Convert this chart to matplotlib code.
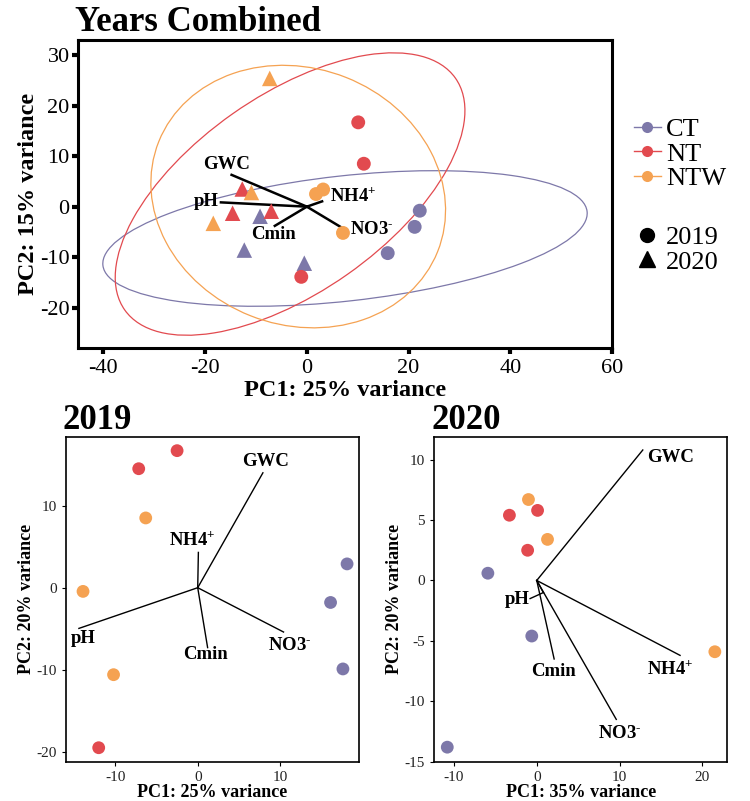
import numpy as np
import matplotlib
matplotlib.use('Agg')
import matplotlib.pyplot as plt
from matplotlib.patches import Ellipse
from matplotlib.lines import Line2D

plt.rcParams['font.family'] = 'Liberation Serif'
plt.rcParams['mathtext.fontset'] = 'custom'
plt.rcParams['mathtext.rm'] = 'Liberation Serif:bold'
plt.rcParams['mathtext.bf'] = 'Liberation Serif:bold'
plt.rcParams['mathtext.default'] = 'bf'
plt.rcParams['axes.unicode_minus'] = False

# ============================== DATA ==============================
treatments = ['CT', 'NT', 'NTW']
colors = {'CT': '#7D78A9', 'NT': '#E24A4F', 'NTW': '#F5A252'}

# Years combined: PC1, PC2 per treatment and year
comb_x = {('CT', 2019): [15.9, 22.2, 21.2], ('CT', 2020): [-9.2, -12.3, -0.5],
          ('NT', 2019): [10.1, 11.2, -1.1], ('NT', 2020): [-12.7, -14.6, -7.0],
          ('NTW', 2019): [1.8, 3.2, 7.1], ('NTW', 2020): [-7.3, -10.9, -18.4]}
comb_y = {('CT', 2019): [-9.2, -0.8, -4.0], ('CT', 2020): [-1.9, -8.6, -11.2],
          ('NT', 2019): [16.7, 8.5, -13.9], ('NT', 2020): [3.5, -1.3, -0.9],
          ('NTW', 2019): [2.5, 3.4, -5.2], ('NTW', 2020): [25.4, 2.8, -3.3]}

# stat ellipses: centre, semi-axes, rotation (deg)
ell_cx = [7.5, -3.3, -1.7]
ell_cy = [-6.3, 2.5, 2.0]
ell_a = [47.9, 39.8, 29.5]
ell_b = [12.4, 19.5, 25.4]
ell_ang = [6.4, 35.3, -21.7]

# loadings (tip) and label positions
var_names = ['GWC', 'pH', r'NH4$^{+}$', r'NO3$^{\text{-}}$', 'Cmin']
comb_load_x = [-14.8, -16.9, 3.0, 7.6, -6.3]
comb_load_y = [6.3, 0.85, 1.05, -4.6, -3.8]
comb_lab_x = [-15.7, -19.8, 9.1, 12.8, -6.5]
comb_lab_y = [8.45, 1.05, 2.05, -4.55, -5.6]

# 2019
y19_x = {'CT': [18.1, 16.1, 17.6], 'NT': [-2.5, -7.15, -12.0], 'NTW': [-6.3, -13.9, -10.2]}
y19_y = {'CT': [2.9, -1.8, -9.9], 'NT': [16.7, 14.5, -19.5], 'NTW': [8.5, -0.45, -10.6]}
y19_load_x = [7.9, -14.4, 0.08, 10.4, 1.2]
y19_load_y = [14.0, -4.96, 4.3, -5.4, -7.3]
y19_lab_x = [8.2, -13.9, -0.7, 11.2, 0.9]
y19_lab_y = [15.4, -6.2, 5.8, -7.0, -8.1]

# 2020
y20_x = {'CT': [-5.9, -0.6, -10.8], 'NT': [-3.3, 0.1, -1.1], 'NTW': [-1.0, 1.3, 21.5]}
y20_y = {'CT': [0.6, -4.6, -13.8], 'NT': [5.4, 5.8, 2.5], 'NTW': [6.7, 3.4, -5.9]}
y20_load_x = [12.8, 0.8, 17.3, 9.6, 2.1]
y20_load_y = [10.8, -1.0, -6.2, -11.5, -6.5]
y20_lab_x = [16.1, -2.4, 16.1, 10.0, 2.0]
y20_lab_y = [10.2, -1.6, -7.3, -12.7, -7.5]

# ============================== PLOT ==============================
fig = plt.figure(figsize=(7.5, 8.01), dpi=100)

# ---------------- Years combined ----------------
ax = fig.add_axes([0.104, 0.5655, 0.712, 0.3845])
for i, t in enumerate(treatments):
    ax.add_patch(Ellipse((ell_cx[i], ell_cy[i]), 2*ell_a[i], 2*ell_b[i], angle=ell_ang[i],
                         fill=False, edgecolor=colors[t], lw=0.9, zorder=1))
for i in range(len(var_names)):
    ax.plot([0, comb_load_x[i]], [0, comb_load_y[i]], color='black', lw=1.8, zorder=2)
for t in treatments:
    ax.scatter(comb_x[(t, 2019)], comb_y[(t, 2019)], s=100, marker='o', color=colors[t],
               edgecolors='none', zorder=3)
    ax.scatter(comb_x[(t, 2020)], comb_y[(t, 2020)], s=125, marker='^', color=colors[t],
               edgecolors='none', zorder=3)
for i, nm in enumerate(var_names):
    ax.text(comb_lab_x[i], comb_lab_y[i], nm, fontsize=13.5, fontweight='bold',
            ha='center', va='center', zorder=4)
ax.set_xlim(-45, 60)
ax.set_ylim(-28, 33)
ax.set_xticks([-40, -20, 0, 20, 40, 60])
ax.set_yticks([-20, -10, 0, 10, 20, 30])
ax.tick_params(labelsize=16, width=3, length=4, color='black', pad=2)
ax.tick_params(axis='x', pad=4)
for sp in ax.spines.values():
    sp.set_linewidth(2.2)
ax.set_xlabel('PC1: 25% variance', fontsize=17.5, fontweight='bold', labelpad=1)
ax.set_ylabel('PC2: 15% variance', fontsize=17.5, fontweight='bold', labelpad=1)
fig.text(0.1, 0.961, 'Years Combined', fontsize=25, fontweight='bold', ha='left', va='baseline')

# legends
col_handles = [Line2D([0], [0], color=colors[t], marker='o', markersize=8, lw=1.0,
                      markeredgewidth=0) for t in treatments]
fig.legend(col_handles, treatments, loc='upper left', bbox_to_anchor=(0.828, 0.87),
           frameon=False, fontsize=19, handlelength=1.0, handletextpad=0.2,
           labelspacing=0.05, borderpad=0)
shape_handles = [Line2D([0], [0], color='black', marker='o', markersize=10, lw=0),
                 Line2D([0], [0], color='black', marker='^', markersize=12, lw=0)]
fig.legend(shape_handles, ['2019', '2020'], loc='upper left', bbox_to_anchor=(0.828, 0.735),
           frameon=False, fontsize=19, handlelength=1.0, handletextpad=0.2,
           labelspacing=0.05, borderpad=0)


# ---------------- single year panels ----------------
def year_panel(rect, px, py, lx, ly, tx, ty, xlim, ylim, xt, yt, xlbl, title):
    a = fig.add_axes(rect)
    for i in range(len(var_names)):
        a.plot([0, lx[i]], [0, ly[i]], color='black', lw=1.0, zorder=2)
    for t in treatments:
        a.scatter(px[t], py[t], s=85, color=colors[t], edgecolors='none', zorder=3)
    for i, nm in enumerate(var_names):
        a.text(tx[i], ty[i], nm, fontsize=13.5, fontweight='bold', ha='center', va='center', zorder=4)
    a.set_xlim(xlim)
    a.set_ylim(ylim)
    a.set_xticks(xt)
    a.set_yticks(yt)
    a.tick_params(labelsize=11, width=0.8, length=3, labelcolor='#222222')
    for sp in a.spines.values():
        sp.set_linewidth(1.2)
    a.set_xlabel(xlbl, fontsize=13, fontweight='bold', labelpad=0)
    a.set_ylabel('PC2: 20% variance', fontsize=13, fontweight='bold', labelpad=1)
    a.set_title(title, fontsize=25, fontweight='bold', loc='left', pad=3, x=-0.01)
    return a

year_panel([0.0876, 0.0491, 0.3911, 0.4057], y19_x, y19_y, y19_load_x, y19_load_y,
           y19_lab_x, y19_lab_y, (-16.0, 19.55), (-21.2, 18.4), [-10, 0, 10], [-20, -10, 0, 10],
           'PC1: 25% variance', '2019')
ax20 = year_panel([0.5787, 0.0491, 0.391, 0.4057], y20_x, y20_y, y20_load_x, y20_load_y,
                  y20_lab_x, y20_lab_y, (-12.4, 23.0), (-15.0, 11.9), [-10, 0, 10, 20],
                  [-15, -10, -5, 0, 5, 10], 'PC1: 35% variance', '2020')
# pH label connector in 2020
ax20.plot([y20_load_x[1], -0.8], [y20_load_y[1], -1.5], color='black', lw=1.0, zorder=2)

plt.savefig('out.png', dpi=100)
